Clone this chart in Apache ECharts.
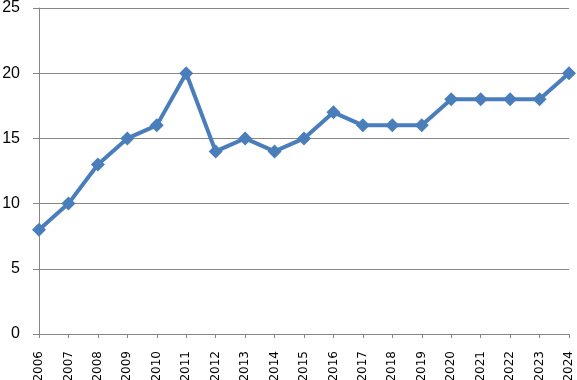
<!DOCTYPE html>
<html><head><meta charset="utf-8">
<script src="https://cdn.jsdelivr.net/npm/echarts@6/dist/echarts.min.js"></script>
<style>html,body{margin:0;padding:0;background:#fff}#c{width:577px;height:380px}</style>
</head><body><div id="c"></div>
<script>
const years = ['2006','2007','2008','2009','2010','2011','2012','2013','2014','2015','2016','2017','2018','2019','2020','2021','2022','2023','2024'];
const values = [8,10,13,15,16,20,14,15,14,15,17,16,16,16,18,18,18,18,20];
const chart = echarts.init(document.getElementById('c'));
chart.setOption({
  animation: false,
  grid: {left: 39, right: 8, top: 8, bottom: 46, containLabel: false, outerBoundsMode: 'none'},
  xAxis: {
    type: 'category', data: years, boundaryGap: false,
    axisLine: {lineStyle: {color: '#868686', width: 1}},
    axisTick: {show: true, alignWithLabel: true, length: 4, lineStyle: {color: '#868686'}},
    axisLabel: {rotate: 90, color: '#000', fontFamily: 'DejaVu Sans', fontSize: 12, margin: 17, interval: 0}
  },
  yAxis: {
    type: 'value', min: 0, max: 25, interval: 5,
    axisLine: {show: true, lineStyle: {color: '#868686'}},
    axisTick: {show: true, length: 6, lineStyle: {color: '#868686'}},
    splitLine: {lineStyle: {color: '#868686'}},
    axisLabel: {color: '#000', fontFamily: 'Liberation Sans', fontSize: 16, margin: 19}
  },
  series: [{
    type: 'line', data: values,
    symbol: 'diamond', symbolSize: 14,
    lineStyle: {color: '#4a7ebb', width: 4},
    itemStyle: {color: '#4a7ebb'}
  }]
});
</script></body></html>
